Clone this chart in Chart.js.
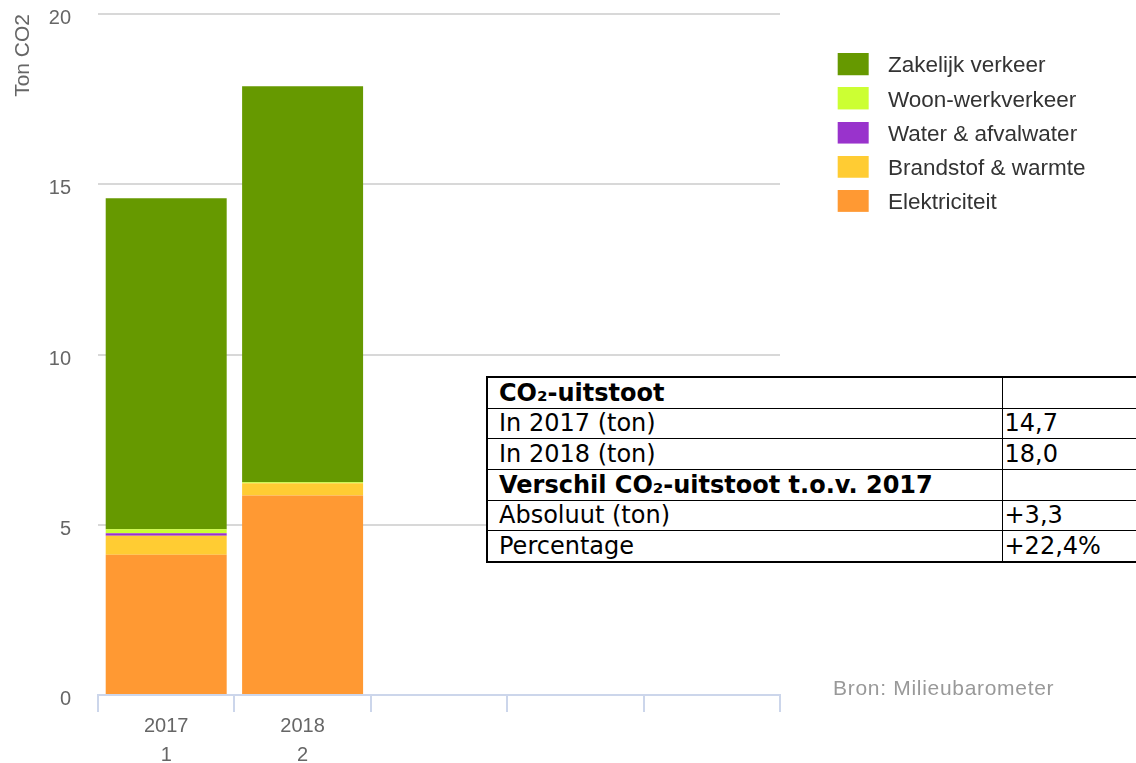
<!DOCTYPE html>
<html>
<head>
<meta charset="utf-8">
<script src="https://cdn.jsdelivr.net/npm/chart.js@4.4.0/dist/chart.umd.min.js"></script>
<style>
html,body{margin:0;padding:0;background:#fff;width:1136px;height:763px;overflow:hidden;position:relative}
#c{position:absolute;left:0;top:0}
#credit{position:absolute;left:833px;top:676px;font-family:"Liberation Sans",Arial,sans-serif;font-size:21px;color:#999;letter-spacing:0.7px;white-space:nowrap;line-height:24px}
#tbl{position:absolute;left:486px;top:376px;width:740px;table-layout:fixed;border-collapse:collapse;border:2px solid #000;font-family:"DejaVu Sans",Verdana,sans-serif;font-size:24px;line-height:28px;color:#000;background:#fff}
#tbl td{border:1px solid #000;height:28.7px;padding:0 0 1px 11px;vertical-align:bottom;white-space:nowrap;overflow:hidden}
#tbl td.v{padding-left:2px}
#tbl td.b{font-weight:bold}
</style>
</head>
<body>
<canvas id="c" width="1136" height="763"></canvas>
<table id="tbl"><colgroup><col style="width:515px"><col style="width:225px"></colgroup><tbody id="tb"></tbody></table>
<div id="credit">Bron: Milieubarometer</div>
<script>
// ---- data ----
const categories = ['2017', '2018', '', '', ''];
const subLabels = ['1', '2', '', '', ''];
const seriesNames = ['Elektriciteit', 'Brandstof & warmte', 'Water & afvalwater', 'Woon-werkverkeer', 'Zakelijk verkeer'];
const elektriciteit = [4.12, 5.86, null, null, null];
const brandstof = [0.56, 0.36, null, null, null];
const water = [0.07, 0.0, null, null, null];
const woonWerk = [0.12, 0.03, null, null, null];
const zakelijk = [9.72, 11.63, null, null, null];
const yTicks = [0, 5, 10, 15, 20];
const tableLabels = ['CO₂-uitstoot', 'In 2017 (ton)', 'In 2018 (ton)', 'Verschil CO₂-uitstoot t.o.v. 2017', 'Absoluut (ton)', 'Percentage'];
const tableValues = ['', '14,7', '18,0', '', '+3,3', '+22,4%'];
const tableBold = [true, false, false, true, false, false];

// ---- styles ----
const seriesColors = ['#ff9933', '#ffcc33', '#9933cc', '#ccff33', '#669900'];
const seriesData = [elektriciteit, brandstof, water, woonWerk, zakelijk];

// table
const tb = document.getElementById('tb');
tableLabels.forEach((lab, i) => {
  const tr = document.createElement('tr');
  const a = document.createElement('td');
  a.textContent = lab;
  if (tableBold[i]) a.className = 'b';
  const b = document.createElement('td');
  b.textContent = tableValues[i];
  b.className = 'v';
  tr.appendChild(a); tr.appendChild(b);
  tb.appendChild(tr);
});

function swatch(color) {
  const c = document.createElement('canvas');
  c.width = 85; c.height = 26;
  const g = c.getContext('2d');
  g.fillStyle = color;
  g.fillRect(46, 0, 31, 22);
  return c;
}

// fixes the legend box width so the plot area ends at x = 780
const legendWidthPlugin = {
  id: 'legendWidth',
  beforeLayout(chart) {
    const lg = chart.legend;
    if (lg && !lg._fixedW) {
      const f = lg.fit;
      lg.fit = function () { f.call(this); this.width = 356; };
      lg._fixedW = true;
    }
  }
};

const datasets = seriesNames.map((name, i) => ({
  label: name,
  data: seriesData[i],
  backgroundColor: seriesColors[i],
  borderWidth: 0,
  categoryPercentage: 1.0,
  barPercentage: 0.887
}));

new Chart(document.getElementById('c'), {
  type: 'bar',
  data: {
    labels: categories.map((c, i) => [c, subLabels[i]]),
    datasets
  },
  plugins: [legendWidthPlugin],
  options: {
    responsive: false,
    animation: false,
    devicePixelRatio: 1,
    layout: { padding: { left: 0, top: 14, right: 0, bottom: 0 } },
    plugins: {
      tooltip: { enabled: false },
      legend: {
        position: 'right',
        align: 'start',
        reverse: true,
        title: { display: true, text: '', padding: { top: 7, bottom: 10.35 }, font: { size: 10 } },
        labels: {
          usePointStyle: true,
          pointStyleWidth: 85,
          boxHeight: 22,
          padding: 11.65,
          color: '#333',
          font: { family: '"Liberation Sans", Arial, sans-serif', size: 22.5 },
          generateLabels: (chart) => {
            const items = Chart.defaults.plugins.legend.labels.generateLabels(chart);
            items.forEach(it => { it.pointStyle = swatch(seriesColors[it.datasetIndex]); });
            return items;
          }
        }
      }
    },
    scales: {
      x: {
        stacked: true,
        offset: true,
        afterFit: (s) => { s.height = 68; },
        grid: { display: true, drawOnChartArea: false, drawTicks: true, tickLength: 17, offset: true, color: '#ccd6eb', lineWidth: 2 },
        border: { display: true, color: '#ccd6eb', width: 2 },
        ticks: {
          autoSkip: false, maxRotation: 0, padding: 0, color: '#666',
          font: { family: '"Liberation Sans", Arial, sans-serif', size: 20 , lineHeight: 1.45 }
        }
      },
      y: {
        stacked: true,
        min: 0, max: 20,
        afterFit: (s) => { s.width = 98; s.paddingTop = 0; s.paddingBottom = 0; },
        afterBuildTicks: (s) => { s.ticks = yTicks.map(v => ({ value: v })); },
        grid: { color: '#d8d8d8', lineWidth: 2, drawTicks: false },
        border: { display: false },
        ticks: {
          padding: 27, labelOffset: 4.5, color: '#666',
          font: { family: '"Liberation Sans", Arial, sans-serif', size: 20 }
        },
        title: {
          display: true, text: 'Ton CO2', align: 'end', color: '#666',
          padding: { top: 10.5, bottom: 0 },
          font: { family: '"Liberation Sans", Arial, sans-serif', size: 21 }
        }
      }
    }
  }
});
</script>
</body>
</html>
